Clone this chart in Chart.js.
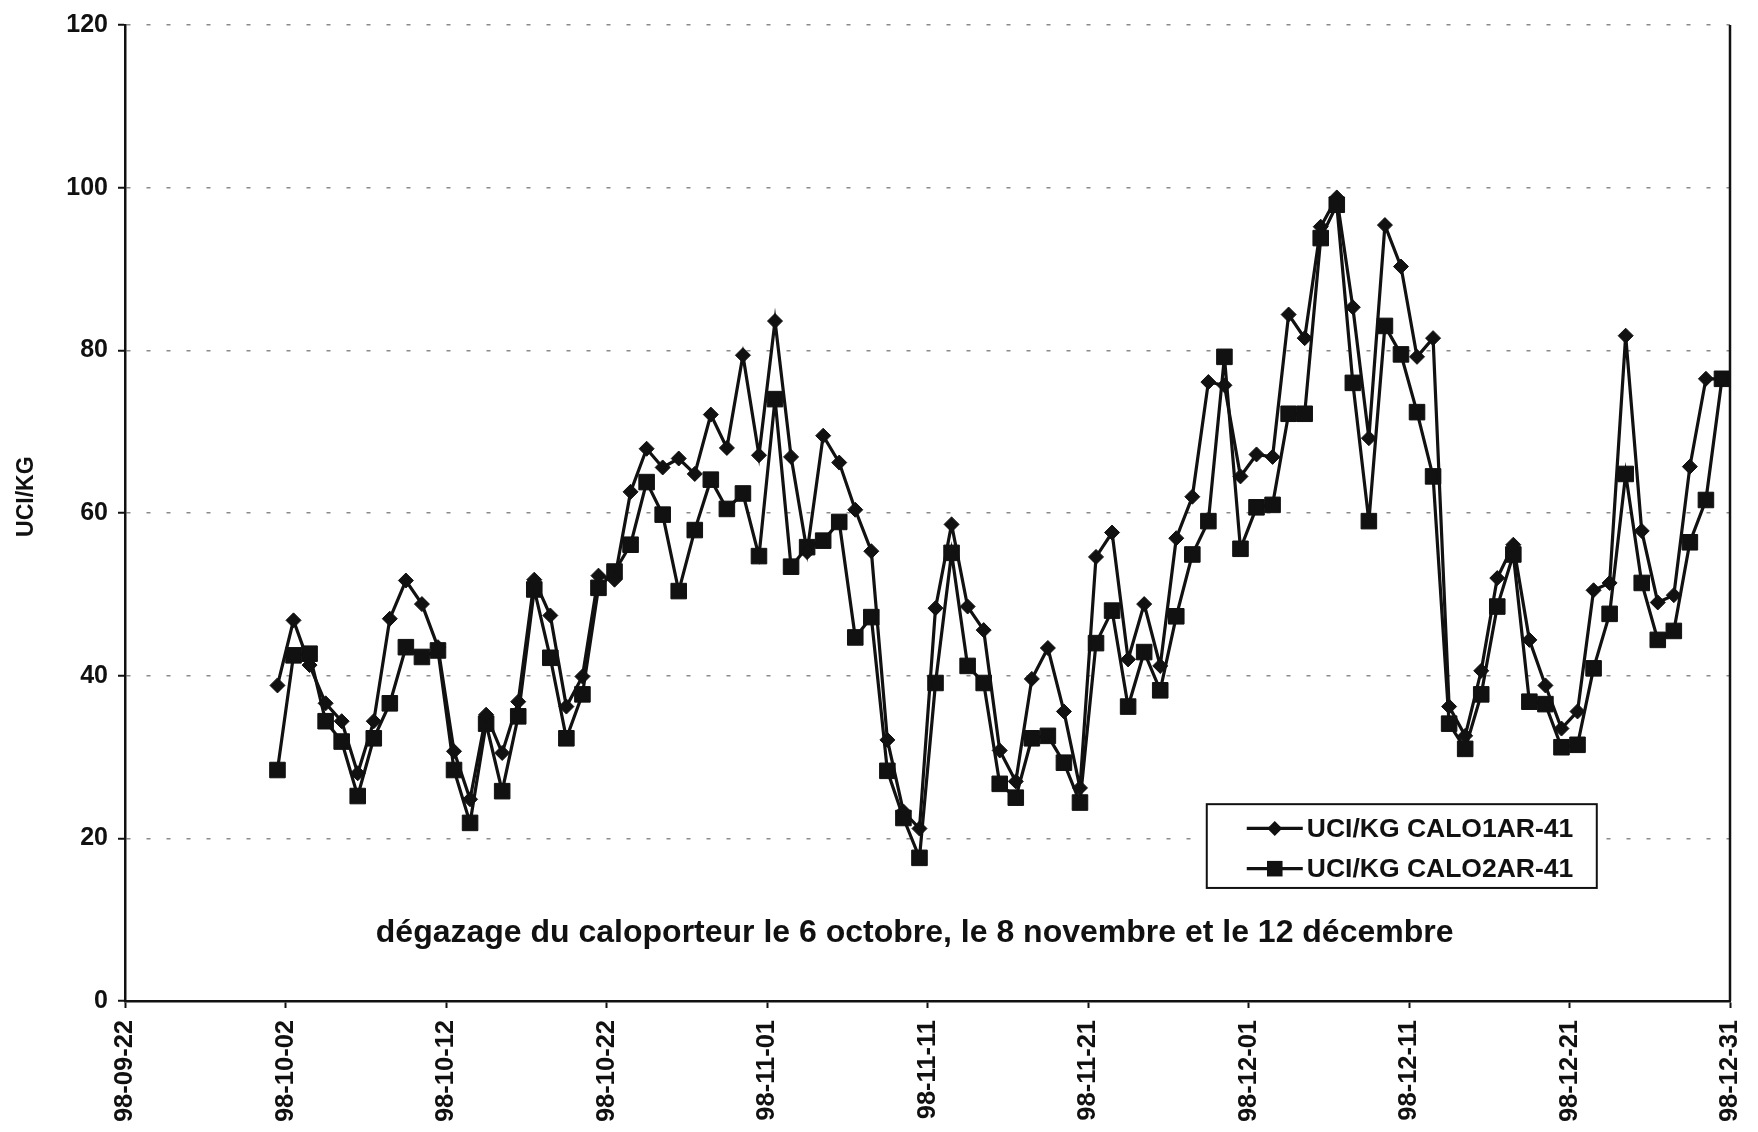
<!DOCTYPE html>
<html>
<head>
<meta charset="utf-8">
<script src="https://cdn.jsdelivr.net/npm/chart.js@4.4.0/dist/chart.umd.min.js"></script>
<style>
  html, body { margin: 0; padding: 0; background: #fff; }
  #wrap { width: 1758px; height: 1132px; position: relative; }
</style>
</head>
<body>
<div id="wrap"><canvas id="uciChart"></canvas></div>
<script>
// axis runs from 98-09-22 to 98-12-31, one sample per day from 98-10-01
const axisStart = Date.UTC(1998, 8, 22)
const firstSample = Date.UTC(1998, 9, 1)
const DAY = 86400000

const tickLabels = ['98-09-22', '98-10-02', '98-10-12', '98-10-22', '98-11-01', '98-11-11',
  '98-11-21', '98-12-01', '98-12-11', '98-12-21', '98-12-31']

const seriesNames = ['UCI/KG CALO1AR-41', 'UCI/KG CALO2AR-41']
const yTitle = 'UCI/KG'

const calo1 = [
  38.8, 46.8, 41.3, 36.6, 34.4, 28.0, 34.4, 47.0, 51.7, 48.8,
  43.5, 30.7, 24.8, 35.2, 30.5, 36.8, 51.8, 47.4, 36.2, 39.9,
  52.3, 51.8, 62.6, 67.9, 65.6, 66.7, 64.8, 72.1, 68.0, 79.4,
  67.1, 83.6, 66.9, 55.2, 69.5, 66.2, 60.4, 55.3, 32.1, 23.3,
  21.2, 48.3, 58.6, 48.5, 45.6, 30.8, 27.0, 39.6, 43.4, 35.6,
  26.2, 54.6, 57.6, 42.0, 48.8, 41.2, 56.9, 62.0, 76.1, 75.7,
  64.5, 67.2, 66.9, 84.4, 81.5, 95.2, 98.8, 85.3, 69.2, 95.4,
  90.3, 79.2, 81.5, 36.2, 32.6, 40.6, 52.0, 56.1, 44.4, 38.8,
  33.5, 35.6, 50.5, 51.4, 81.8, 57.8, 49.0, 49.9, 65.7, 76.5,
  76.5
]

const calo2 = [
  28.4, 42.5, 42.7, 34.4, 31.9, 25.2, 32.3, 36.6, 43.5, 42.3,
  43.1, 28.4, 21.9, 34.1, 25.8, 35.0, 50.6, 42.2, 32.3, 37.7,
  50.8, 52.8, 56.1, 63.8, 59.8, 50.4, 57.9, 64.1, 60.5, 62.4,
  54.7, 74.0, 53.4, 55.8, 56.6, 58.9, 44.7, 47.2, 28.3, 22.5,
  17.6, 39.1, 55.1, 41.2, 39.1, 26.7, 25.0, 32.3, 32.6, 29.3,
  24.4, 44.0, 48.0, 36.2, 42.9, 38.2, 47.3, 54.9, 59.0, 79.2,
  55.6, 60.7, 61.0, 72.2, 72.2, 93.8, 97.9, 76.0, 59.0, 83.0,
  79.5, 72.4, 64.5, 34.1, 31.0, 37.7, 48.5, 54.9, 36.8, 36.5,
  31.2, 31.5, 40.9, 47.6, 64.8, 51.4, 44.4, 45.5, 56.4, 61.6,
  76.5
]

const note = 'dégazage du caloporteur le 6 octobre, le 8 novembre et le 12 décembre'

const ink = '#111'
const fam = '"Liberation Sans", Arial, Helvetica, sans-serif'

// x = days since 98-09-22, samples taken mid-day
const sampleX = calo1.map((v, i) => (firstSample - axisStart) / DAY + i + 0.5)
const toPoints = arr => arr.map((v, i) => ({ x: sampleX[i], y: v }))

function markerPath(ctx, style, r, cx, cy) {
  ctx.beginPath()
  if (style === 'rect') {
    const s = Math.SQRT1_2 * r
    ctx.rect(cx - s, cy - s, 2 * s, 2 * s)
  } else {
    ctx.moveTo(cx - r, cy); ctx.lineTo(cx, cy - r)
    ctx.lineTo(cx + r, cy); ctx.lineTo(cx, cy + r)
    ctx.closePath()
  }
}

// right frame line, y title, the note and the boxed legend
const extras = {
  id: 'extras',
  afterDatasetsDraw(chart) {
    const { ctx, chartArea: a, scales: { x, y } } = chart
    ctx.save()
    ctx.strokeStyle = ink
    ctx.lineWidth = 2.5
    ctx.beginPath()
    ctx.moveTo(a.right, a.top)
    ctx.lineTo(a.right, a.bottom)
    ctx.stroke()

    // axis title sits a bit above the middle in the original
    ctx.save()
    ctx.translate(a.left - 98, y.getPixelForValue(62))
    ctx.rotate(-Math.PI / 2)
    ctx.fillStyle = ink
    ctx.font = 'bold 23px ' + fam
    ctx.textAlign = 'center'
    ctx.textBaseline = 'middle'
    ctx.fillText(yTitle, 0, 0)
    ctx.restore()

    ctx.fillStyle = ink
    ctx.font = 'bold 32px ' + fam
    ctx.textAlign = 'center'
    ctx.textBaseline = 'middle'
    ctx.fillText(note, x.getPixelForValue(49.2), y.getPixelForValue(8.4),
      x.getPixelForValue(83.0) - x.getPixelForValue(15.5))

    const bl = x.getPixelForValue(67.4), br = x.getPixelForValue(91.7)
    const bt = y.getPixelForValue(24.2), bb = y.getPixelForValue(13.9)
    ctx.fillStyle = '#fff'
    ctx.fillRect(bl, bt, br - bl, bb - bt)
    ctx.lineWidth = 2
    ctx.strokeRect(bl, bt, br - bl, bb - bt)
    const rows = [bt + (bb - bt) * 0.29, bt + (bb - bt) * 0.77]
    chart.data.datasets.forEach((ds, i) => {
      const ry = rows[i]
      const lx0 = bl + 40, lx1 = bl + 96
      ctx.strokeStyle = ink
      ctx.lineWidth = ds.borderWidth
      ctx.beginPath(); ctx.moveTo(lx0, ry); ctx.lineTo(lx1, ry); ctx.stroke()
      ctx.fillStyle = ink
      markerPath(ctx, ds.pointStyle, ds.pointRadius, (lx0 + lx1) / 2, ry)
      ctx.fill()
      ctx.font = 'bold 26.5px ' + fam
      ctx.textAlign = 'left'
      ctx.textBaseline = 'middle'
      ctx.fillText(ds.label, lx1 + 4, ry + 1)
    })
    ctx.restore()
  }
}

const config = {
  type: 'line',
  data: {
    datasets: [
      {
        label: seriesNames[0],
        data: toPoints(calo1),
        borderColor: ink, backgroundColor: ink,
        borderWidth: 3.2,
        pointStyle: 'rectRot', pointRadius: 7.5,
        pointBackgroundColor: ink, pointBorderColor: ink, pointBorderWidth: 1,
        tension: 0, clip: false,
      },
      {
        label: seriesNames[1],
        data: toPoints(calo2),
        borderColor: ink, backgroundColor: ink,
        borderWidth: 3.2,
        pointStyle: 'rect', pointRadius: 11,
        pointBackgroundColor: ink, pointBorderColor: ink, pointBorderWidth: 1,
        tension: 0, clip: false,
      },
    ],
  },
  options: {
    responsive: true,
    maintainAspectRatio: false,
    animation: false,
    events: [],
    layout: { padding: { left: 0, right: 28, top: 20, bottom: 0 } },
    plugins: { legend: { display: false }, tooltip: { enabled: false } },
    scales: {
      x: {
        type: 'linear', min: 0, max: 100,
        ticks: {
          stepSize: 10, autoSkip: false, minRotation: 90, maxRotation: 90, padding: 12,
          color: ink, font: { family: fam, size: 25.5, weight: 'bold' },
          callback: v => tickLabels[Math.round(v / 10)],
        },
        grid: { drawOnChartArea: false, tickColor: ink, tickLength: 7, tickWidth: 2 },
        border: { color: ink, width: 2.5 },
        afterFit(scale) {
          scale.height = 131
          scale.paddingLeft = 0
          scale.paddingRight = 0
        },
      },
      y: {
        min: 0, max: 120,
        ticks: { stepSize: 20, padding: 10, color: ink, font: { family: fam, size: 25, weight: 'bold' } },
        grid: { color: '#8a8a8a', lineWidth: 1.5, tickColor: ink, tickLength: 7, tickWidth: 2, tickBorderDash: [] },
        border: { display: true, color: ink, width: 2.5, dash: [4, 16] },
        afterFit(scale) { scale.width = 125 },
      },
    },
  },
  plugins: [extras],
}

const uciCtx = document.getElementById('uciChart')
window.uciChart = new Chart(uciCtx, config)
</script>
</body>
</html>
